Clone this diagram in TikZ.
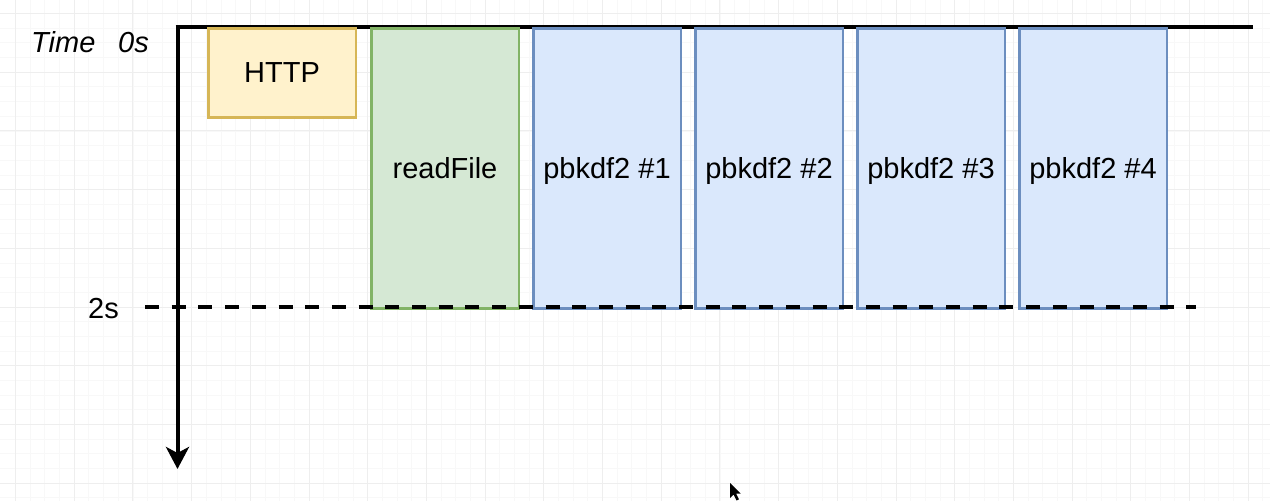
\documentclass[tikz,border=0pt]{standalone}
\usepackage{fontspec}
\setmainfont{Liberation Sans}
\usetikzlibrary{arrows.meta}
\definecolor{httpfill}{HTML}{FFF2CC}
\definecolor{httpline}{HTML}{D6B656}
\definecolor{greenfill}{HTML}{D5E8D4}
\definecolor{greenline}{HTML}{82B366}
\definecolor{bluefill}{HTML}{DAE8FC}
\definecolor{blueline}{HTML}{6C8EBF}
\definecolor{gridmajor}{HTML}{EEEEEE}
\definecolor{gridminor}{HTML}{F8F8F8}
\begin{document}
\begin{tikzpicture}[x=1pt,y=-1pt,
  lbl/.style={font=\fontsize{29}{34}\selectfont, inner sep=0pt},
  task/.style={draw, line width=2.5pt, minimum width=147.5pt, minimum height=280pt,
    anchor=north west, inner sep=0pt, text depth=0pt, font=\fontsize{29}{34}\selectfont},
  httpbox/.style={task, minimum height=89pt, fill=httpfill, draw=httpline},
  readbox/.style={task, fill=greenfill, draw=greenline},
  cpubox/.style={task, fill=bluefill, draw=blueline},
  axisline/.style={line width=4pt, black},
  twosline/.style={line width=4pt, black, dash pattern=on 14pt off 12.7pt}]
\useasboundingbox (0,0) rectangle (1270,501);
\fill[white] (0,0) rectangle (1270,501);
% grid
\foreach \i in {0,...,86} {
  \draw[gridminor, line width=0.8pt] ({15.5+14.675*\i},0) -- ({15.5+14.675*\i},501);
}
\foreach \i in {0,...,34} {
  \draw[gridminor, line width=0.8pt] (0,{13.5+14.675*\i}) -- (1270,{13.5+14.675*\i});
}
\foreach \i in {0,...,21} {
  \draw[gridmajor, line width=1pt] ({15.5+58.7*\i},0) -- ({15.5+58.7*\i},501);
}
\foreach \i in {0,...,8} {
  \draw[gridmajor, line width=1pt] (0,{13.5+58.7*\i}) -- (1270,{13.5+58.7*\i});
}
% axes
\coordinate (origin) at (177.5,27);
\coordinate (topend) at (1253,27);
\coordinate (axisend) at (177.5,469);
\draw[axisline] (175.5,27) -- (topend);
\draw[axisline, -{Stealth[length=22pt, width=23pt, inset=6pt]}] (177.5,25) -- (axisend);
% tasks
\node[httpbox] (http) at (207,27) {HTTP};
\node[readbox] (read) at (370,27) {readFile};
\node[cpubox] (p1) at (532,27) {pbkdf2 \#1};
\node[cpubox] (p2) at (694,27) {pbkdf2 \#2};
\node[cpubox] (p3) at (856,27) {pbkdf2 \#3};
\node[cpubox] (p4) at (1018,27) {pbkdf2 \#4};
% 2s line
\coordinate (dstart) at (145,307);
\coordinate (dend) at (1196,307);
\draw[twosline] (dstart) -- (dend);
% labels
\node[lbl, anchor=base west, font=\fontsize{29}{34}\selectfont\itshape] (time) at (31,52) {Time};
\node[lbl, anchor=base west, font=\fontsize{29}{34}\selectfont\itshape] (zero) at (118,52) {0s};
\node[lbl, anchor=base east] (two) at (119,318) {2s};
% cursor
\fill[black] (730,483) -- (730,498) -- (733.5,494.5) -- (736.5,500.5) -- (739,499.3) -- (736,493.5) -- (740.5,493.5) -- cycle;
\end{tikzpicture}
\end{document}
